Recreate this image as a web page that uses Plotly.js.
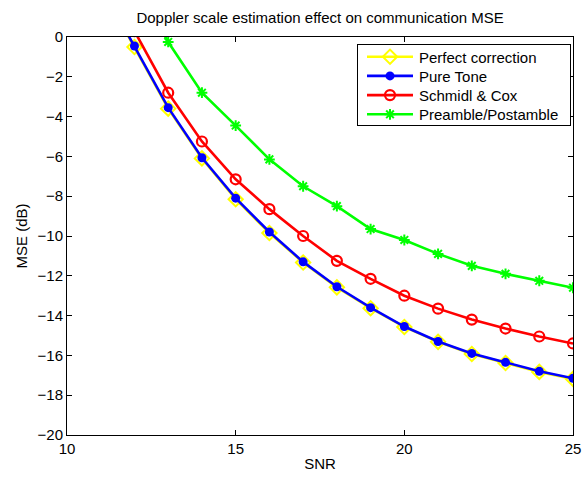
<!DOCTYPE html>
<html>
<head>
<meta charset="utf-8">
<script src="https://cdn.plot.ly/plotly-3.0.1.min.js"></script>
<style>html,body{margin:0;padding:0;background:#fff;}</style>
</head>
<body>
<div id="chart" style="width:582px;height:477px;"></div>
<script>
// SNR values
var snr = [11, 12, 13, 14, 15, 16, 17, 18, 19, 20, 21, 22, 23, 24, 25];
// MSE (dB) per method
var perfect = [2.55, -0.5, -3.6, -6.1, -8.15, -9.85, -11.33, -12.58, -13.63, -14.57, -15.32, -15.93, -16.38, -16.83, -17.18];
var pureTone = [2.6, -0.45, -3.55, -6.07, -8.1, -9.8, -11.3, -12.55, -13.6, -14.55, -15.3, -15.9, -16.35, -16.8, -17.15];
var schmidl = [3.5, 0.3, -2.8, -5.25, -7.15, -8.65, -10.0, -11.25, -12.15, -13.0, -13.65, -14.2, -14.65, -15.05, -15.4];
var preamble = [6.0, 2.8, -0.25, -2.8, -4.45, -6.15, -7.5, -8.5, -9.65, -10.2, -10.9, -11.5, -11.9, -12.25, -12.6];
var names = ["Perfect correction", "Pure Tone", "Schmidl & Cox", "Preamble/Postamble"];
var xTicks = [10, 15, 20, 25];
var yTicks = [0, -2, -4, -6, -8, -10, -12, -14, -16, -18, -20];

var font = {family: "Liberation Sans, Arial, sans-serif", size: 15, color: "#000"};

var traces = [
  {x: snr, y: perfect, name: names[0], mode: "lines+markers",
   line: {color: "#ffff00", width: 2.6},
   marker: {symbol: "diamond-open", size: 11, color: "#ffff00", line: {width: 2, color: "#ffff00"}}},
  {x: snr, y: pureTone, name: names[1], mode: "lines+markers",
   line: {color: "#0000ff", width: 2.6},
   marker: {symbol: "circle", size: 9, color: "#0000ff"}},
  {x: snr, y: schmidl, name: names[2], mode: "lines+markers",
   line: {color: "#ff0000", width: 2.6},
   marker: {symbol: "circle-open", size: 10, color: "#ff0000", line: {width: 2.2, color: "#ff0000"}}},
  {x: snr, y: preamble, name: names[3], mode: "lines+markers",
   line: {color: "#00ff00", width: 2.6},
   marker: {symbol: "asterisk-open", size: 9, color: "#00ff00", line: {width: 2, color: "#00ff00"}}}
];

var layout = {
  width: 582, height: 477,
  margin: {l: 67, r: 9, t: 37, b: 42},
  paper_bgcolor: "#fff", plot_bgcolor: "#fff",
  font: font,
  title: {text: "Doppler scale estimation effect on communication MSE", font: {family: font.family, size: 15, color: "#000"},
          x: 0.55, xanchor: "center", xref: "container", y: 0.962, yanchor: "middle", yref: "container"},
  xaxis: {range: [10, 25], tickvals: xTicks, ticktext: xTicks.map(String), ticklabeloverflow: "allow",
          showline: true, mirror: "ticks", linecolor: "#000", linewidth: 1,
          ticks: "inside", ticklen: 5, tickcolor: "#000", showgrid: false, zeroline: false,
          title: {text: "SNR", font: font, standoff: 2}, tickfont: font},
  yaxis: {range: [-20, 0], tickvals: yTicks, ticktext: yTicks.map(function(v){return v < 0 ? "\u2212" + Math.abs(v) : String(v);}),
          ticklabeloverflow: "allow",
          showline: true, mirror: "ticks", linecolor: "#000", linewidth: 1,
          ticks: "inside", ticklen: 5, tickcolor: "#000", showgrid: false, zeroline: false,
          title: {text: "MSE (dB)", font: font, standoff: 6}, tickfont: font},
  legend: {x: 0.99, xanchor: "right", y: 0.982, yanchor: "top",
           bgcolor: "#fff", bordercolor: "#000", borderwidth: 1,
           font: font, tracegroupgap: 0, itemwidth: 40},
  showlegend: true
};

function tightenLegend() {
  try {
    var lg = document.querySelector("g.legend");
    if (!lg) return;
    var W = 213, H = 81, step = 19.2, first = 12.7;
    lg.setAttribute("transform", "translate(357,44)");
    var bg = lg.querySelector("rect.bg");
    if (bg) { bg.setAttribute("width", W); bg.setAttribute("height", H); bg.setAttribute("x", 0.5); bg.setAttribute("y", 0.5); }
    var sb = lg.querySelector("g.scrollbox");
    if (sb) sb.setAttribute("transform", "translate(0,0)");
    var clip = document.querySelector("clipPath[id^='legend'] rect");
    if (clip) { clip.setAttribute("width", W + 10); clip.setAttribute("height", H + 10); clip.setAttribute("x", 0); clip.setAttribute("y", 0); }
    var items = lg.querySelectorAll("g.traces");
    items.forEach(function(it, i) {
      it.setAttribute("transform", "translate(0," + (first + i * step) + ")");
      it.querySelectorAll("g.legendlines path").forEach(function(p) { p.setAttribute("d", "M10,0h46"); });
      it.querySelectorAll("g.legendpoints path.scatterpts").forEach(function(p) { p.setAttribute("transform", "translate(33,0)"); });
      var t = it.querySelector("text.legendtext");
      if (t) {
        t.setAttribute("x", 62);
        t.querySelectorAll("tspan").forEach(function(s) { if (s.hasAttribute("x")) s.setAttribute("x", 62); });
      }
      var r = it.querySelector("rect.legendtoggle");
      if (r) r.setAttribute("width", W);
    });
  } catch (e) {}
}

Plotly.newPlot("chart", traces, layout, {displayModeBar: false, staticPlot: true}).then(tightenLegend);
</script>
</body>
</html>
